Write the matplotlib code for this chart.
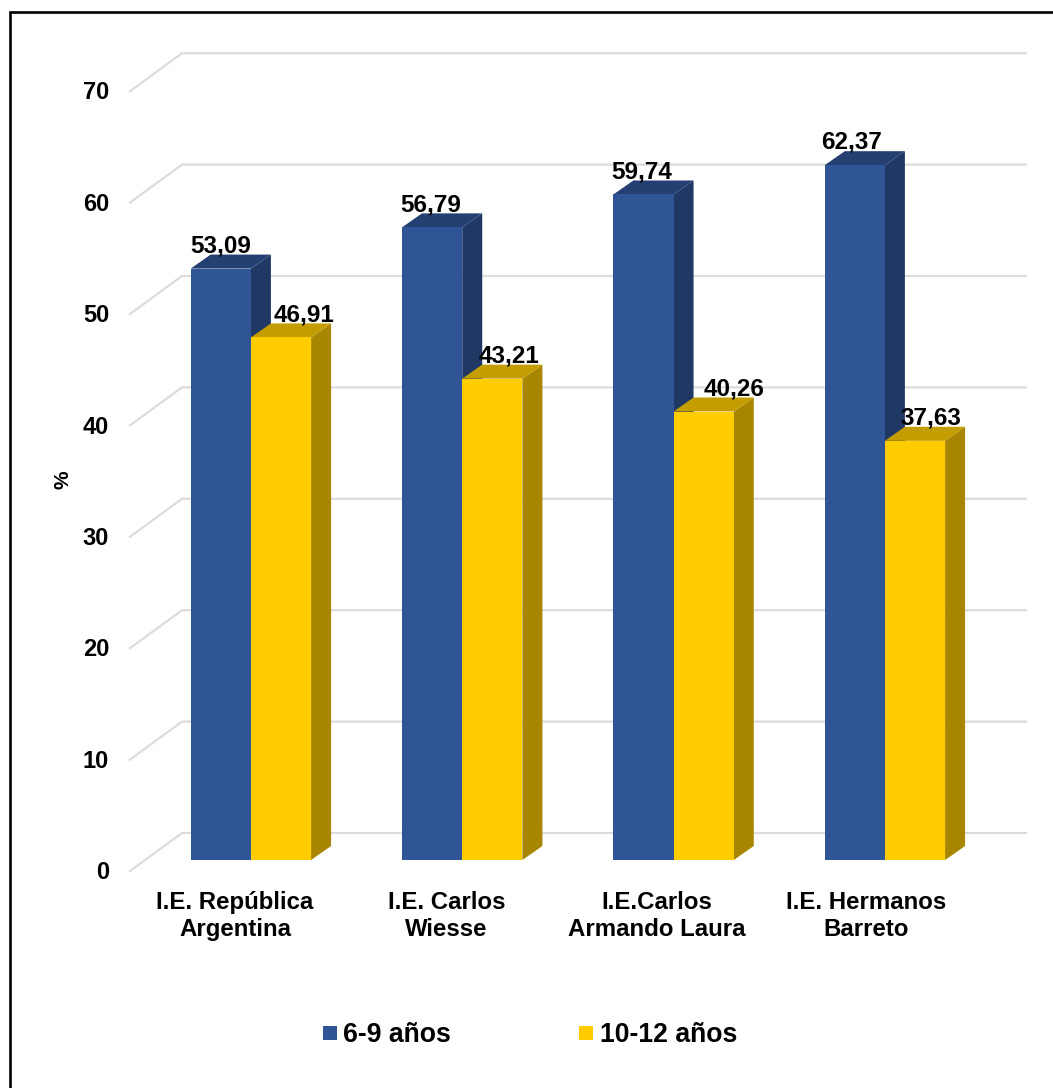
import matplotlib
matplotlib.use("Agg")
import matplotlib.pyplot as plt
from matplotlib.patches import Polygon, Rectangle

plt.rcParams['font.family'] = ['Liberation Sans', 'DejaVu Sans']

categories = ["I.E. República\nArgentina", "I.E. Carlos\nWiesse", "I.E.Carlos\nArmando Laura", "I.E. Hermanos\nBarreto"]
series_names = ["6-9 años", "10-12 años"]
ages_6_9 = [53.09, 56.79, 59.74, 62.37]
ages_10_12 = [46.91, 43.21, 40.26, 37.63]
value_labels_a = ["53,09", "56,79", "59,74", "62,37"]
value_labels_b = ["46,91", "43,21", "40,26", "37,63"]
y_ticks = [0, 10, 20, 30, 40, 50, 60, 70]

W, H = 1053, 1088
PXU = 11.14
Y0 = 860
dx, dy = 20, 14 / PXU
grid_front_x, grid_back_x, grid_end_x = 130, 182, 1026
floor_front, floor_back = -(871 - 860) / PXU, (860 - 833) / PXU
bar_w = 60.2
first_left = 190.7
step = 211.33
label_cx_a = [221, 431, 642, 852]
label_cx_b = [303.5, 509, 734, 931]
cat_cx = [235, 446.5, 657, 866.5]

fig = plt.figure(figsize=(W / 100, H / 100), dpi=100, facecolor='white')
ax = fig.add_axes([0, 0, 1, 1])
ax.set_xlim(0, W)
ax.set_ylim((Y0 - H) / PXU, Y0 / PXU)
ax.axis('off')

grid_c = '#dcdcdc'
for t in y_ticks:
    ax.plot([grid_front_x, grid_back_x, grid_end_x],
            [t + floor_front, t + floor_back, t + floor_back],
            color=grid_c, lw=1.6, zorder=1, solid_joinstyle='miter')
    ax.text(109, t + floor_front + 0.07, str(t), ha='right', va='center_baseline',
            fontsize=17, fontweight='bold', color='black')

def bar3d(x, v, col, side, top, z):
    ax.add_patch(Polygon([(x + bar_w, 0), (x + bar_w + dx, dy), (x + bar_w + dx, v + dy), (x + bar_w, v)],
                         fc=side, ec='none', zorder=z))
    ax.add_patch(Polygon([(x, v), (x + dx, v + dy), (x + bar_w + dx, v + dy), (x + bar_w, v)],
                         fc=top, ec='none', zorder=z))
    ax.add_patch(Rectangle((x, 0), bar_w, v, fc=col, ec='none', zorder=z + 0.1))

blue, blue_side, blue_top = '#2f5597', '#203864', '#243f72'
gold, gold_side, gold_top = '#ffcc00', '#a88600', '#c49e00'
LABEL_UP = 25.3 / PXU

for i, cat in enumerate(categories):
    x = first_left + i * step
    bar3d(x, ages_6_9[i], blue, blue_side, blue_top, 3)
    bar3d(x + bar_w, ages_10_12[i], gold, gold_side, gold_top, 4)
    ax.text(label_cx_a[i], ages_6_9[i] + LABEL_UP, value_labels_a[i], ha='center', va='center_baseline',
            fontsize=17.5, fontweight='bold', color='black', zorder=6)
    ax.text(label_cx_b[i], ages_10_12[i] + LABEL_UP, value_labels_b[i], ha='center', va='center_baseline',
            fontsize=17.5, fontweight='bold', color='black', zorder=6)
    ax.text(cat_cx[i], (Y0 - 916) / PXU, cat, ha='center', va='center', linespacing=1.2,
            fontsize=17.3, fontweight='bold', color='black')

ax.text(63, (Y0 - 480) / PXU, '%', rotation=90, ha='center', va='center',
        fontsize=15, fontweight='bold', color='black')

# legend
leg_y = (Y0 - 1033) / PXU
text_y = (Y0 - 1035) / PXU
ax.add_patch(Rectangle((323, leg_y - 7 / PXU), 13.5, 14 / PXU, fc=blue, ec='none'))
ax.text(343, text_y, series_names[0], ha='left', va='center',
        fontsize=19.2, fontweight='bold', color='black')
ax.add_patch(Rectangle((579, leg_y - 7 / PXU), 13.5, 14 / PXU, fc=gold, ec='none'))
ax.text(600, text_y, series_names[1], ha='left', va='center',
        fontsize=19.2, fontweight='bold', color='black')

# outer frame
ax.plot([10, 10, W], [(Y0 - H) / PXU, (Y0 - 12) / PXU, (Y0 - 12) / PXU],
        color='black', lw=1.9, solid_joinstyle='miter', zorder=7)

fig.savefig('out.png', dpi=100, facecolor='white')
